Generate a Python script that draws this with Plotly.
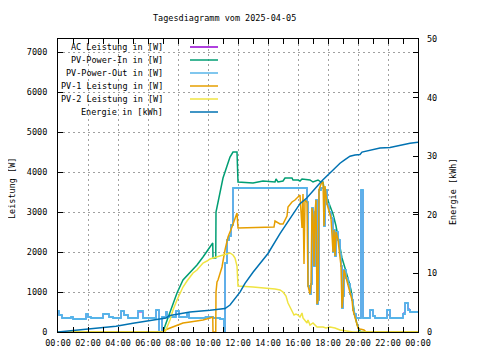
import pandas as pd
import plotly.graph_objects as go

DAY = "2025-04-05"
TITLE = "Tagesdiagramm vom 2025-04-05"
Y_TITLE = "Leistung [W]"
Y2_TITLE = "Energie [kWh]"
LABELS = ["AC Leistung in [W]", "PV-Power-In in [W]", "PV-Power-Out in [W]",
          "PV-1 Leistung in [W]", "PV-2 Leistung in [W]", "Energie in [kWh]"]
COLORS = ["#9400D3", "#009E73", "#56B4E9", "#E69F00", "#F0E442", "#0072B2"]

# PV-Power-Out [W]
pvout_time = ["00:00", "00:04", "00:16", "00:52", "01:00", "01:52", "02:00", "02:12", "03:00", "03:24",
              "03:40", "04:12", "04:24", "04:40", "05:20", "05:40", "06:32", "06:44", "06:56", "07:12",
              "07:16", "07:52", "08:04", "08:36", "08:44", "09:50", "10:20", "10:48", "11:04", "11:08",
              "11:16", "11:24", "11:32", "11:40", "16:36", "16:40", "16:48", "16:52", "16:56", "17:00",
              "17:04", "17:08", "17:12", "17:16", "17:20", "17:24", "17:32", "17:44", "17:48", "17:56",
              "18:04", "18:12", "18:20", "18:24", "18:28", "18:32", "18:40", "18:48", "18:52", "18:56",
              "19:00", "19:04", "19:12", "19:20", "19:28", "19:36", "19:40", "19:44", "19:52", "20:12",
              "20:20", "20:48", "21:00", "21:08", "21:56", "22:08", "23:00", "23:08", "23:20", "23:28",
              "24:00"]
pvout_w = [525, 425, 350, 375, 325, 450, 375, 350, 450, 375,
           350, 525, 425, 350, 525, 350, 550, 0, 375, 500,
           375, 525, 375, 450, 350, 375, 350, 325, 0, 1725,
           2300, 2400, 2675, 3600, 3250, 1150, 950, 1200, 3100, 2900,
           1650, 3000, 3300, 700, 800, 3550, 3600, 2650, 3550, 3200,
           3000, 2850, 2000, 2550, 1900, 2500, 2300, 1950, 1650, 600,
           900, 1550, 1350, 1200, 950, 800, 550, 450, 350, 3550,
           350, 550, 400, 350, 550, 350, 450, 725, 550, 500,
           500]

# AC Leistung [W] (almost identical to PV-Power-Out)
ac_time = pvout_time
ac_w = [525, 425, 350, 375, 325, 450, 375, 350, 450, 375,
        350, 525, 425, 350, 500, 350, 550, 0, 375, 500,
        375, 525, 375, 450, 350, 375, 350, 325, 0, 1725,
        2300, 2400, 2675, 3600, 3250, 1150, 950, 1200, 3100, 2900,
        1650, 3000, 3300, 700, 800, 3550, 3600, 2650, 3550, 3200,
        3000, 2850, 2000, 2550, 1900, 2500, 2300, 1950, 1650, 600,
        900, 1550, 1350, 1200, 950, 800, 550, 450, 350, 3550,
        350, 550, 400, 350, 550, 350, 475, 725, 575, 500,
        500]

# PV-Power-In [W]
pvin_time = ["00:00", "07:00", "07:08", "07:28", "07:56", "08:20", "08:48", "09:16", "09:40", "10:08",
             "10:19", "10:20", "10:31", "10:32", "10:40", "10:48", "11:00", "11:16", "11:28", "11:40",
             "11:56", "12:00", "13:00", "13:40", "14:28", "14:32", "14:40", "15:00", "15:08", "15:36",
             "15:40", "16:00", "16:08", "16:16", "16:48", "17:00", "17:20", "17:32", "17:40", "17:48",
             "17:56", "18:08", "18:20", "18:32", "18:40", "18:48", "18:56", "19:08", "19:16", "19:24",
             "19:32", "19:40", "19:48", "19:56", "20:04", "20:12", "24:00"]
pvin_w = [0, 0, 150, 475, 975, 1300, 1500, 1675, 1875, 2125,
          2225, 1850, 1850, 3000, 3250, 3550, 3850, 4150, 4375, 4500,
          4500, 3750, 3725, 3775, 3750, 3825, 3750, 3775, 3850, 3850,
          3800, 3800, 3775, 3825, 3800, 3750, 3800, 3750, 3750, 3450,
          3350, 3150, 2950, 2650, 2400, 2150, 1850, 1600, 1450, 1250,
          1050, 700, 400, 200, 50, 0, 0]

# PV-1 Leistung [W]
pv1_time = ["00:00", "07:00", "07:08", "07:28", "07:56", "08:20", "08:48", "09:16", "09:40", "10:08",
            "10:19", "10:20", "10:31", "10:32", "10:36", "10:40", "10:48", "10:56", "11:08", "11:20",
            "11:36", "11:48", "11:56", "12:00", "14:24", "14:28", "14:48", "15:00", "15:08", "15:16",
            "15:20", "15:36", "15:48", "16:00", "16:08", "16:16", "16:20", "16:24", "16:28", "16:36",
            "16:40", "16:48", "16:52", "16:56", "17:00", "17:04", "17:08", "17:12", "17:16", "17:20",
            "17:24", "17:32", "17:40", "17:44", "17:48", "17:56", "18:04", "18:12", "18:20", "18:24",
            "18:28", "18:32", "18:40", "18:48", "18:52", "18:56", "19:00", "19:04", "19:12", "19:20",
            "19:28", "19:36", "19:40", "19:44", "19:52", "20:00", "20:08", "20:24", "20:32", "24:00"]
pv1_w = [0, 0, 50, 100, 175, 225, 250, 275, 300, 350,
         375, 0, 0, 1000, 1250, 1300, 1500, 1625, 2050, 2375,
         2625, 2850, 2975, 2600, 2625, 2775, 2700, 2700, 2800, 2900,
         3125, 3250, 3300, 3375, 3425, 2600, 3450, 1700, 3300, 3250,
         1150, 950, 1200, 3100, 2900, 1650, 3000, 3300, 700, 800,
         3550, 3700, 3750, 2650, 3650, 3200, 3000, 2850, 2000, 2550,
         1900, 2500, 2300, 1950, 1650, 600, 900, 1550, 1350, 1200,
         950, 800, 550, 450, 250, 100, 75, 50, 0, 0]

# PV-2 Leistung [W]
pv2_time = ["00:00", "07:08", "07:28", "07:40", "07:56", "08:08", "08:20", "08:36", "08:48", "09:00",
            "09:16", "09:28", "09:40", "09:56", "10:08", "10:20", "10:36", "10:48", "11:00", "11:16",
            "11:28", "11:40", "11:48", "11:56", "12:00", "13:00", "14:00", "14:28", "14:48", "15:00",
            "15:12", "15:20", "15:28", "15:36", "15:44", "15:52", "16:00", "16:08", "16:16", "16:20",
            "16:36", "16:40", "16:48", "17:00", "17:16", "17:40", "17:52", "18:08", "18:28", "18:48",
            "19:28", "19:40", "24:00"]
pv2_w = [0, 0, 300, 550, 800, 950, 1125, 1275, 1375, 1475,
         1550, 1625, 1725, 1775, 1825, 1850, 1875, 1900, 1925, 1950,
         1975, 1925, 1850, 1650, 1150, 1125, 1100, 1075, 1050, 1000,
         900, 725, 625, 500, 425, 450, 425, 375, 475, 350,
         225, 300, 175, 225, 125, 125, 100, 125, 100, 50,
         25, 0, 0]

# Energie [kWh]
energy_time = ["00:00", "00:12", "00:44", "01:04", "02:04", "03:00", "03:52", "05:00", "05:52", "06:32",
               "07:12", "07:28", "08:48", "10:08", "11:08", "11:28", "11:48", "12:08", "12:28", "13:00",
               "14:00", "14:48", "16:08", "16:36", "17:36", "18:12", "18:48", "19:08", "19:28", "19:48",
               "20:08", "20:16", "20:48", "21:28", "22:08", "22:48", "23:28", "24:00"]
energy_kwh = [0.0, 0.05, 0.2, 0.25, 0.5, 0.7, 1.0, 1.5, 1.9, 2.2,
              2.4, 2.8, 3.4, 3.7, 4.0, 4.6, 5.8, 6.8, 8.3, 10.2,
              13.4, 16.8, 21.9, 22.9, 25.8, 27.3, 28.8, 29.4, 30.0, 30.2,
              30.3, 30.7, 31.0, 31.4, 31.5, 31.9, 32.2, 32.4]

Y_MAX = 7325
Y2_MAX = 50


def ts(lst):
    base = pd.Timestamp(DAY)
    out = []
    for s in lst:
        h, m = s.split(":")
        out.append(base + pd.Timedelta(minutes=int(h) * 60 + int(m)))
    return out


FONT = "DejaVu Sans Mono"
FS = 8.5

fig = go.Figure()
series = [
    (ac_time, ac_w, "y", "hv", 1.0),
    (pvin_time, pvin_w, "y", "linear", 1.5),
    (pvout_time, pvout_w, "y", "hv", 1.8),
    (pv1_time, pv1_w, "y", "linear", 1.5),
    (pv2_time, pv2_w, "y", "linear", 1.5),
    (energy_time, energy_kwh, "y2", "linear", 1.5),
]
for (t, v, ax, shape, lw), name, col in zip(series, LABELS, COLORS):
    fig.add_trace(go.Scatter(x=ts(t), y=v, name=name, mode="lines", yaxis=ax,
                             line=dict(color=col, width=lw, shape=shape),
                             showlegend=False, hoverinfo="skip"))

# page has an 8px body margin: figure is drawn at offset (8, 8)
OFF = 8
# plot-area geometry in page px (for placing text)
L, R, T, B = 58, 418, 39, 332
W, H = R - L, B - T


def px(x):
    return (x - L) / W


def py(y):
    return (B - y) / H


annotations = [
    dict(text=TITLE, x=px(224), y=py(18), xref="paper", yref="paper", showarrow=False,
         xanchor="center", yanchor="middle"),
    dict(text=Y_TITLE, x=px(12), y=py(189), xref="paper", yref="paper", showarrow=False,
         textangle=-90, xanchor="center", yanchor="middle"),
    dict(text=Y2_TITLE, x=px(453), y=py(192), xref="paper", yref="paper", showarrow=False,
         textangle=-90, xanchor="center", yanchor="middle"),
]
shapes = [dict(type="rect", xref="paper", yref="paper", x0=0, x1=px(222), y0=py(118), y1=1,
               fillcolor="white", line=dict(width=0), layer="between")]
rows = [47, 60, 73, 86, 99, 112]
for name, col, ry in zip(LABELS, COLORS, rows):
    annotations.append(dict(text=name, x=px(165), y=py(ry), xref="paper", yref="paper",
                            showarrow=False, xanchor="right", yanchor="middle"))
    shapes.append(dict(type="line", xref="paper", yref="paper", x0=px(190), x1=px(218),
                       y0=py(ry), y1=py(ry), line=dict(color=col, width=1.5), layer="above"))

grid = dict(showgrid=True, gridcolor="#a0a0a0", gridwidth=1, griddash="2px,3px")
fig.update_layout(
    width=480 - OFF, height=360 - OFF,
    margin=dict(l=L - OFF, r=480 - R, t=T - OFF, b=360 - B, autoexpand=False),
    paper_bgcolor="white", plot_bgcolor="white",
    font=dict(family=FONT, size=FS, color="black"),
    annotations=annotations, shapes=shapes,
    xaxis=dict(type="date", range=[pd.Timestamp(DAY), pd.Timestamp(DAY) + pd.Timedelta(days=1)],
               dtick=7200000, tickformat="%H:%M", ticks="inside", ticklen=5, tickcolor="black",
               minor=dict(dtick=3600000, ticks="inside", ticklen=3, tickcolor="black", showgrid=False),
               showline=True, linecolor="black", linewidth=1, mirror="allticks",
               zeroline=False, ticklabelstandoff=3, automargin=False, **grid),
    yaxis=dict(range=[0, Y_MAX], dtick=1000, ticks="inside", ticklen=5, tickcolor="black",
               showline=True, linecolor="black", linewidth=1, mirror="allticks",
               zeroline=False, ticklabelstandoff=8, automargin=False, **grid),
    yaxis2=dict(range=[0, Y2_MAX], dtick=10, overlaying="y", side="right", ticks="inside",
                ticklen=5, tickcolor="black", showgrid=False, zeroline=False,
                ticklabelstandoff=8, showline=False, automargin=False),
)
fig.write_html("out.html")
